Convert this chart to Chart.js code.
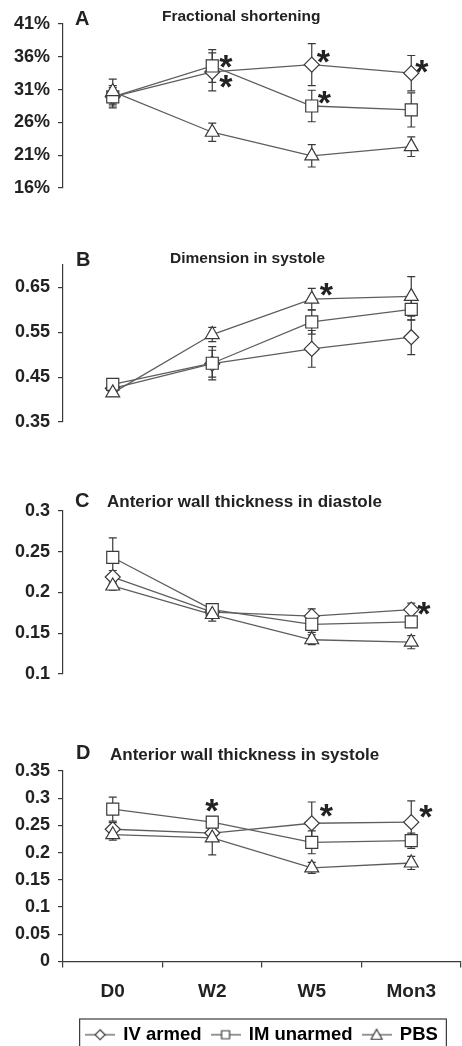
<!DOCTYPE html>
<html>
<head>
<meta charset="utf-8">
<script src="https://cdn.jsdelivr.net/npm/chart.js@4.4.0/dist/chart.umd.min.js"></script>
<style>
  html, body { margin: 0; padding: 0; background: #fff; overflow: hidden; }
  canvas { position: absolute; left: 0; }
</style>
</head>
<body>
<canvas id="cA" width="462" height="207" style="top:0px"></canvas>
<canvas id="cB" width="462" height="211" style="top:230px"></canvas>
<canvas id="cC" width="462" height="213" style="top:480px"></canvas>
<canvas id="cD" width="462" height="320" style="top:735px"></canvas>
<script>
// time points and groups
const groups = ['D0', 'W2', 'W5', 'Mon3'];
const seriesNames = ['IV armed', 'IM unarmed', 'PBS'];

// A - fractional shortening (%)
const fsTicks = [16, 21, 26, 31, 36, 41];
const fsIV = [29.9, 33.7, 34.8, 33.5];
const fsIM = [29.9, 34.6, 28.5, 27.9];
const fsPBS = [30.7, 24.5, 20.9, 22.3];
const fsIVErr = [1.4, 2.9, 3.2, 2.7];
const fsIMErr = [1.7, 2.5, 2.4, 2.6];
const fsPBSErr = [1.9, 1.4, 1.7, 1.5];
const fsIVStar = [0, 1, 1, 1];
const fsIMStar = [0, 1, 1, 0];
const fsPBSStar = [0, 0, 0, 0];

// B - dimension in systole
const dsTicks = [0.35, 0.45, 0.55, 0.65];
const dsIV = [0.425, 0.480, 0.513, 0.539];
const dsIM = [0.434, 0.481, 0.573, 0.601];
const dsPBS = [0.415, 0.545, 0.624, 0.630];
const dsIVErr = [0.008, 0.03, 0.041, 0.039];
const dsIMErr = [0.008, 0.037, 0.027, 0.024];
const dsPBSErr = [0.008, 0.016, 0.024, 0.044];
const dsIVStar = [0, 0, 0, 0];
const dsIMStar = [0, 0, 0, 0];
const dsPBSStar = [0, 0, 1, 0];

// C - anterior wall thickness in diastole
const awdTicks = [0.1, 0.15, 0.2, 0.25, 0.3];
const awdIV = [0.219, 0.176, 0.171, 0.179];
const awdIM = [0.243, 0.179, 0.161, 0.164];
const awdPBS = [0.208, 0.173, 0.142, 0.139];
const awdIVErr = [0.008, 0.005, 0.009, 0.008];
const awdIMErr = [0.024, 0.005, 0.01, 0.006];
const awdPBSErr = [0.005, 0.008, 0.006, 0.008];
const awdIVStar = [0, 0, 0, 1];
const awdIMStar = [0, 0, 0, 0];
const awdPBSStar = [0, 0, 0, 0];

// D - anterior wall thickness in systole
const awsTicks = [0, 0.05, 0.1, 0.15, 0.2, 0.25, 0.3, 0.35];
const awsIV = [0.243, 0.236, 0.254, 0.256];
const awsIM = [0.280, 0.256, 0.219, 0.222];
const awsPBS = [0.233, 0.227, 0.172, 0.181];
const awsIVErr = [0.012, 0.008, 0.039, 0.039];
const awsIMErr = [0.022, 0.01, 0.021, 0.014];
const awsPBSErr = [0.01, 0.031, 0.01, 0.012];
const awsIVStar = [0, 0, 1, 1];
const awsIMStar = [0, 1, 0, 0];
const awsPBSStar = [0, 0, 0, 0];

const INK = '#3a3a3a';
const LINE = '#5e5e5e';
const TEXT = '#222';
const FONT = "'Liberation Sans', Arial, Helvetica, sans-serif";
Chart.defaults.font.family = FONT;
Chart.defaults.color = TEXT;

const marks = [
  {pointStyle: 'rectRot', pointRadius: 7.5, order: 3},
  {pointStyle: 'rect', pointRadius: 8.5, order: 2},
  {pointStyle: 'triangle', pointRadius: 8, order: 1}
];

function makeIcon(shape) {
  const c = document.createElement('canvas');
  c.width = 30; c.height = 14;
  const g = c.getContext('2d');
  g.strokeStyle = LINE; g.lineWidth = 1.3;
  g.beginPath(); g.moveTo(0, 7); g.lineTo(30, 7); g.stroke();
  g.fillStyle = '#fff'; g.strokeStyle = INK; g.lineWidth = 1.2;
  g.beginPath();
  if (shape === 'diamond') {
    g.moveTo(15, 2); g.lineTo(20, 7); g.lineTo(15, 12); g.lineTo(10, 7); g.closePath();
  } else if (shape === 'square') {
    g.rect(11, 3, 8, 8);
  } else {
    g.moveTo(15, 1.5); g.lineTo(20.5, 11.5); g.lineTo(9.5, 11.5); g.closePath();
  }
  g.fill(); g.stroke();
  return c;
}
const icons = [makeIcon('diamond'), makeIcon('square'), makeIcon('triangle')];

// error bars under the markers, asterisks on top
const errorBars = {
  id: 'errorBars',
  beforeDatasetsDraw(chart) {
    const ctx = chart.ctx, y = chart.scales.y;
    ctx.save();
    ctx.strokeStyle = INK;
    ctx.lineWidth = 1.2;
    chart.data.datasets.forEach((ds, i) => {
      chart.getDatasetMeta(i).data.forEach((pt, j) => {
        const t = y.getPixelForValue(ds.data[j] + ds.err[j]);
        const b = y.getPixelForValue(ds.data[j] - ds.err[j]);
        ctx.beginPath();
        ctx.moveTo(pt.x, t); ctx.lineTo(pt.x, b);
        ctx.moveTo(pt.x - 4, t); ctx.lineTo(pt.x + 4, t);
        ctx.moveTo(pt.x - 4, b); ctx.lineTo(pt.x + 4, b);
        ctx.stroke();
      });
    });
    ctx.restore();
  },
  afterDatasetsDraw(chart, args, opts) {
    const ctx = chart.ctx;
    ctx.save();
    ctx.fillStyle = TEXT;
    ctx.font = 'bold 34px ' + FONT;
    ctx.textAlign = 'left';
    ctx.textBaseline = 'alphabetic';
    const m = ctx.measureText('*');
    const cx = (m.actualBoundingBoxRight - m.actualBoundingBoxLeft) / 2;
    const cy = (m.actualBoundingBoxAscent - m.actualBoundingBoxDescent) / 2;
    chart.data.datasets.forEach((ds, i) => {
      chart.getDatasetMeta(i).data.forEach((pt, j) => {
        if (!ds.stars[j]) return;
        const off = (opts.offsets && opts.offsets[i + '-' + j]) || [13, -8];
        ctx.fillText('*', pt.x + off[0] - cx, pt.y + off[1] + cy);
      });
    });
    ctx.restore();
  }
};

const panelTitle = {
  id: 'panelTitle',
  afterDraw(chart, args, o) {
    const ctx = chart.ctx;
    ctx.save();
    ctx.fillStyle = TEXT;
    ctx.textAlign = 'left';
    ctx.textBaseline = 'alphabetic';
    ctx.font = 'bold 20px ' + FONT;
    ctx.fillText(o.letter, o.letterX, o.letterY);
    ctx.font = 'bold ' + o.size + 'px ' + FONT;
    ctx.fillText(o.text, o.textX, o.textY);
    ctx.restore();
  }
};

// frame around the legend, open at the bottom edge of the figure
const legendBox = {
  id: 'legendBox',
  afterDraw(chart) {
    const lg = chart.legend;
    if (!lg || !lg.options.display) return;
    const hb = lg.legendHitBoxes;
    const last = hb[hb.length - 1];
    const left = hb[0].left - 7;
    const right = last.left + last.width + 8;
    const ctx = chart.ctx;
    ctx.save();
    ctx.strokeStyle = INK;
    ctx.lineWidth = 1.2;
    ctx.strokeRect(left + 0.5, lg.top + 3.5, right - left, chart.height);
    ctx.restore();
  }
};

function panel(id, p) {
  const datasets = p.values.map((vals, i) => ({
    label: seriesNames[i],
    data: vals,
    err: p.errs[i],
    stars: p.stars[i],
    order: marks[i].order,
    borderColor: LINE,
    borderWidth: 1.3,
    tension: 0,
    fill: false,
    pointStyle: marks[i].pointStyle,
    pointRadius: marks[i].pointRadius,
    pointBackgroundColor: '#fff',
    pointBorderColor: INK,
    pointBorderWidth: 1.2
  }));

  return new Chart(document.getElementById(id), {
    type: 'line',
    data: { labels: groups, datasets: datasets },
    options: {
      responsive: false,
      animation: false,
      layout: { padding: p.padding, autoPadding: false },
      plugins: {
        tooltip: { enabled: false },
        legend: {
          display: !!p.legend,
          position: 'bottom',
          fullSize: false,
          labels: {
            usePointStyle: true,
            pointStyleWidth: 28,
            padding: 10,
            color: TEXT,
            font: { size: 18.5, weight: 'bold' },
            generateLabels: chart => chart.data.datasets.map((ds, i) => ({
              text: ds.label, pointStyle: icons[i], datasetIndex: i,
              fillStyle: '#fff', strokeStyle: INK, lineWidth: 0, hidden: false
            }))
          }
        },
        panelTitle: p.title,
        errorBars: { offsets: p.starOffsets }
      },
      scales: {
        x: {
          display: !!p.showX,
          offset: true,
          grid: { offset: true, drawOnChartArea: false, drawTicks: true, tickLength: 6, color: INK, lineWidth: 1.2 },
          border: { color: INK, width: 1.2 },
          ticks: { padding: 13, color: TEXT, font: { size: 19, weight: 'bold' } },
          afterFit: s => { if (p.showX) s.height = 54; }
        },
        y: {
          min: p.min,
          max: p.max,
          afterBuildTicks: s => { s.ticks = p.ticks.map(v => ({ value: v })); },
          afterFit: s => { s.width = 63; },
          grid: { drawOnChartArea: false, tickLength: 5, color: INK, lineWidth: 1.2 },
          border: { color: INK, width: 1.2 },
          ticks: { autoSkip: false, padding: 8, color: TEXT, font: { size: 18, weight: 'bold' }, callback: p.fmt }
        }
      }
    },
    plugins: [errorBars, panelTitle, legendBox]
  });
}

panel('cA', {
  values: [fsIV, fsIM, fsPBS], errs: [fsIVErr, fsIMErr, fsPBSErr], stars: [fsIVStar, fsIMStar, fsPBSStar],
  ticks: fsTicks, min: 16, max: 41, fmt: v => v + '%',
  padding: { top: 24, bottom: 19, left: 0, right: 1 },
  title: { letter: 'A', letterX: 75, letterY: 25, text: 'Fractional shortening', textX: 162, textY: 21, size: 15.5 },
  starOffsets: { '1-1': [14, -4], '0-1': [14, 10], '0-2': [12, -8], '1-2': [13, -9], '0-3': [11, -7] }
});

panel('cB', {
  values: [dsIV, dsIM, dsPBS], errs: [dsIVErr, dsIMErr, dsPBSErr], stars: [dsIVStar, dsIMStar, dsPBSStar],
  ticks: dsTicks, min: 0.35, max: 0.70, fmt: v => String(v),
  padding: { top: 35, bottom: 19, left: 0, right: 1 },
  title: { letter: 'B', letterX: 76, letterY: 36, text: 'Dimension in systole', textX: 170, textY: 33, size: 15.5 },
  starOffsets: { '2-2': [15, -10] }
});

panel('cC', {
  values: [awdIV, awdIM, awdPBS], errs: [awdIVErr, awdIMErr, awdPBSErr], stars: [awdIVStar, awdIMStar, awdPBSStar],
  ticks: awdTicks, min: 0.1, max: 0.3, fmt: v => String(v),
  padding: { top: 31, bottom: 19, left: 0, right: 1 },
  title: { letter: 'C', letterX: 75, letterY: 27, text: 'Anterior wall thickness in diastole', textX: 107, textY: 27, size: 17 },
  starOffsets: { '0-3': [13, -1] }
});

panel('cD', {
  values: [awsIV, awsIM, awsPBS], errs: [awsIVErr, awsIMErr, awsPBSErr], stars: [awsIVStar, awsIMStar, awsPBSStar],
  ticks: awsTicks, min: 0, max: 0.35, fmt: v => String(v),
  padding: { top: 36, bottom: 1, left: 0, right: 1 },
  showX: true, legend: true,
  title: { letter: 'D', letterX: 76, letterY: 24, text: 'Anterior wall thickness in systole', textX: 110, textY: 25, size: 17 },
  starOffsets: { '1-1': [0, -17], '0-2': [15, -13], '0-3': [15, -11] }
});
</script>
</body>
</html>
